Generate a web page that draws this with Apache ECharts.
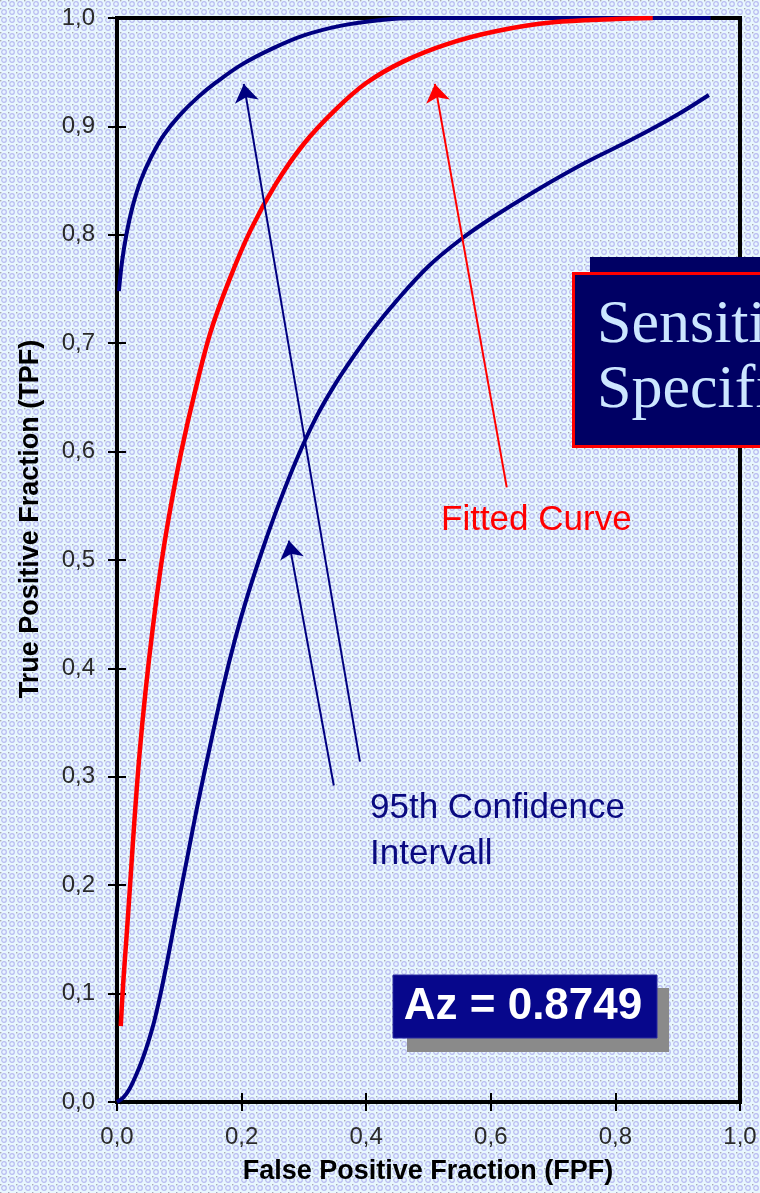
<!DOCTYPE html>
<html>
<head>
<meta charset="utf-8">
<script src="https://cdn.jsdelivr.net/npm/echarts@6/dist/echarts.min.js"></script>
<style>
html,body{margin:0;padding:0;}
#chart{width:760px;height:1193px;}
</style>
</head>
<body>
<div id="chart"></div>
<script>
// ---------- data ----------
const xTickLabels = ['0,0','0,2','0,4','0,6','0,8','1,0'];
const yTickLabels = ['0,0','0,1','0,2','0,3','0,4','0,5','0,6','0,7','0,8','0,9','1,0'];

const upperCI = [[0.003,0.748],[0.008,0.775],[0.015,0.8],[0.025,0.826],[0.038,0.85],[0.055,0.872],[0.075,0.892],[0.1,0.91],[0.13,0.927],[0.16,0.941],[0.2,0.957],[0.25,0.972],[0.3,0.984],[0.36,0.993],[0.42,0.998],[0.48,1.0],[0.953,1.0]];

const fittedCurve = [[0.006,0.07],[0.01,0.11],[0.015,0.15],[0.021,0.2],[0.028,0.26],[0.036,0.32],[0.046,0.38],[0.058,0.44],[0.072,0.5],[0.088,0.555],[0.105,0.605],[0.125,0.655],[0.15,0.71],[0.18,0.758],[0.215,0.805],[0.255,0.847],[0.3,0.884],[0.35,0.915],[0.4,0.94],[0.46,0.96],[0.53,0.976],[0.61,0.988],[0.7,0.996],[0.8,0.999],[0.86,1.0]];

const lowerCI = [[0.0,0.0],[0.01,0.004],[0.02,0.012],[0.03,0.024],[0.04,0.038],[0.05,0.055],[0.06,0.075],[0.07,0.1],[0.08,0.128],[0.09,0.158],[0.1,0.188],[0.115,0.232],[0.13,0.276],[0.15,0.33],[0.17,0.382],[0.19,0.428],[0.21,0.468],[0.235,0.512],[0.26,0.552],[0.29,0.595],[0.32,0.632],[0.35,0.662],[0.38,0.688],[0.41,0.712],[0.45,0.74],[0.5,0.771],[0.55,0.795],[0.6,0.815],[0.67,0.84],[0.75,0.866],[0.83,0.889],[0.9,0.911],[0.95,0.929]];

// annotation arrows: [tail, head] in data coordinates
const ciArrows = [[[0.39,0.314],[0.2035,0.9392]], [[0.348,0.292],[0.2757,0.5179]]];
const fittedArrow = [[0.6256,0.567],[0.5102,0.9392]];

const xAxisTitle = 'False Positive Fraction (FPF)';
const yAxisTitle = 'True Positive Fraction (TPF)';
const fittedLabel = 'Fitted Curve';
const ciLabel = ['95th Confidence', 'Intervall'];
const azText = 'Az = 0.8749';
const boxLines = ['Sensitivity', 'Specificity'];

// ---------- background texture ----------
(function(){
  const c = document.createElement('canvas');
  c.width = 8; c.height = 8;
  const g = c.getContext('2d');
  g.fillStyle = '#e8f7fd'; g.fillRect(0,0,8,8);
  g.strokeStyle = '#b8baf1'; g.lineWidth = 1.2;
  g.beginPath(); g.arc(4,4,2.3,0,Math.PI*2); g.stroke();
  g.fillStyle = '#a8a8b8'; g.fillRect(0,0,1.4,1.4);
  document.body.style.background = 'url(' + c.toDataURL() + ')';
})();

const SANS = '"Liberation Sans", Arial, sans-serif';
const SERIF = '"Liberation Serif", "Times New Roman", serif';
const NAVY = '#000080';
const RED = '#ff0000';

const chart = echarts.init(document.getElementById('chart'), null, {renderer:'canvas'});

function arrowData(arr){
  return arr.map(a => [{coord:a[0]},{coord:a[1]}]);
}

const axisCommon = {
  type:'value', min:0, max:1, splitLine:{show:false}
};

chart.setOption({
  backgroundColor:'transparent',
  animation:false,
  grid:{left:117, top:18, width:623, height:1084, show:true, borderColor:'#000', borderWidth:4, backgroundColor:'transparent'},
  xAxis:[
    Object.assign({}, axisCommon, {
      interval:0.2, position:'bottom',
      axisLine:{show:true, lineStyle:{color:'#000', width:4}},
      axisTick:{show:true, inside:false, length:9, lineStyle:{color:'#000', width:2}},
      axisLabel:{show:true, margin:23, color:'#2a2a2a', fontFamily:SANS, fontSize:24,
        formatter:v => xTickLabels[Math.round(v/0.2)]}
    }),
    Object.assign({}, axisCommon, {
      interval:0.2, position:'bottom',
      axisLine:{show:false},
      axisTick:{show:true, inside:true, length:9, lineStyle:{color:'#000', width:2}},
      axisLabel:{show:false}
    })
  ],
  yAxis:[
    Object.assign({}, axisCommon, {
      interval:0.1, position:'left',
      axisLine:{show:true, lineStyle:{color:'#000', width:4}},
      axisTick:{show:true, inside:false, length:9, lineStyle:{color:'#000', width:2}},
      axisLabel:{show:true, margin:22, color:'#2a2a2a', fontFamily:SANS, fontSize:24,
        formatter:v => yTickLabels[Math.round(v/0.1)]}
    }),
    Object.assign({}, axisCommon, {
      interval:0.1, position:'left',
      axisLine:{show:false},
      axisTick:{show:true, inside:true, length:9, lineStyle:{color:'#000', width:2}},
      axisLabel:{show:false}
    })
  ],
  series:[
    {
      name:'Upper CI', type:'line', data:upperCI, smooth:0.35, showSymbol:false, z:3,
      lineStyle:{color:NAVY, width:4}
    },
    {
      name:'Fitted Curve', type:'line', data:fittedCurve, smooth:0.35, showSymbol:false, z:4,
      lineStyle:{color:RED, width:4.5},
      markLine:{
        silent:true, symbol:['none','arrow'], symbolSize:18,
        label:{show:false},
        lineStyle:{color:RED, width:2, type:'solid'},
        data:arrowData([fittedArrow])
      }
    },
    {
      name:'Lower CI', type:'line', data:lowerCI, smooth:0.35, showSymbol:false, z:3,
      lineStyle:{color:NAVY, width:4},
      markLine:{
        silent:true, symbol:['none','arrow'], symbolSize:18,
        label:{show:false},
        lineStyle:{color:NAVY, width:2, type:'solid'},
        data:arrowData(ciArrows)
      }
    }
  ],
  graphic:[
    // axis titles
    {type:'text', x:428, y:1172, z:50, style:{text:xAxisTitle, fill:'#000', font:'bold 27px ' + SANS, align:'center', verticalAlign:'middle'}},
    {type:'text', x:31, y:519, rotation:Math.PI/2, z:50, style:{text:yAxisTitle, fill:'#000', font:'bold 27px ' + SANS, align:'center', verticalAlign:'middle'}},
    // annotation labels
    {type:'text', x:441, y:520, z:50, style:{text:fittedLabel, fill:RED, font:'35px ' + SANS, align:'left', verticalAlign:'middle'}},
    {type:'text', x:370, y:808, z:50, style:{text:ciLabel[0], fill:'#0a0a80', font:'35px ' + SANS, align:'left', verticalAlign:'middle'}},
    {type:'text', x:370, y:854, z:50, style:{text:ciLabel[1], fill:'#0a0a80', font:'35px ' + SANS, align:'left', verticalAlign:'middle'}},
    // Az box
    {type:'rect', z:60, shape:{x:407, y:988, width:262, height:64}, style:{fill:'#8a8a8a'}},
    {type:'rect', z:61, shape:{x:393, y:975, width:264, height:63}, style:{fill:'#07078c', stroke:'#2a2aa0', lineWidth:1}},
    {type:'text', x:523, y:1007, z:62, style:{text:azText, fill:'#fff', font:'bold 44px ' + SANS, align:'center', verticalAlign:'middle'}},
    // Sensitivity/Specificity box
    {type:'rect', z:70, shape:{x:590, y:257, width:200, height:180}, style:{fill:'#000064'}},
    {type:'rect', z:71, shape:{x:573.5, y:273.5, width:240, height:173}, style:{fill:'#000064', stroke:RED, lineWidth:3}},
    {type:'text', x:597, y:326, z:72, style:{text:boxLines[0], fill:'#cce6ff', font:'62px ' + SERIF, align:'left', verticalAlign:'middle'}},
    {type:'text', x:597, y:391, z:72, style:{text:boxLines[1], fill:'#cce6ff', font:'62px ' + SERIF, align:'left', verticalAlign:'middle'}}
  ]
});
</script>
</body>
</html>
